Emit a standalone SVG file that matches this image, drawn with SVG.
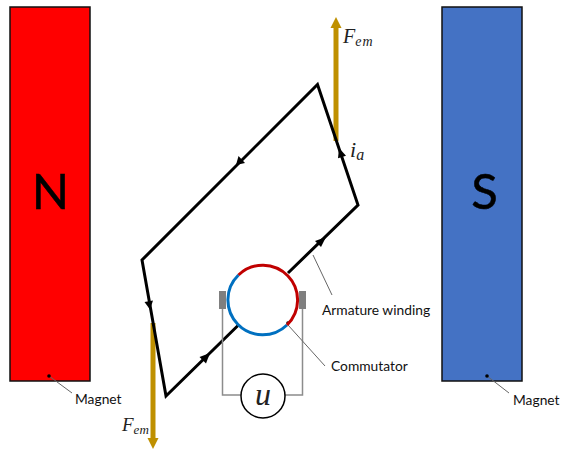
<svg xmlns="http://www.w3.org/2000/svg" width="562" height="449" viewBox="0 0 562 449">
<style>
.mag{stroke:#111;stroke-width:1.5}
.big{font:49px Lato,"Open Sans",sans-serif;fill:#000;stroke:#000;stroke-width:0.500;text-anchor:middle}
.lab{font:13.800px Lato,"Open Sans",sans-serif;fill:#111}
.m{font-family:"Liberation Serif",serif;font-style:italic;fill:#222}
.w{fill:none;stroke:#000;stroke-width:3;stroke-linejoin:miter}
.lead{fill:none;stroke:#666;stroke-width:1}
.wire{fill:none;stroke:#8c8c8c;stroke-width:1.5}
.f{stroke:#bf9000;stroke-width:5;fill:none}
.fh{fill:#bf9000}
.dot{fill:#000}
</style>
<g id="magnet-n"><rect class="mag" x="10" y="7" width="80" height="374" fill="#ff0000"/><text class="big" x="50.500" y="208.500">N</text></g>
<g id="magnet-s"><rect class="mag" x="442" y="7" width="80" height="374" fill="#4472c4"/><text class="big" x="484.500" y="208.500">S</text></g>
<g id="connectors">
<path class="f" d="M336 141V27"/><path class="fh" d="M336 17L341.500 28H330.500Z"/>
<path class="f" d="M153 323V438"/><path class="fh" d="M153 449L147.500 438H158.500Z"/>
<path class="w" d="M288 273L358 205L317.500 84.500L142 260L166 396L238.500 325"/>
<path class="dot" d="M326 237L321 247L315 241Z"/>
<path class="dot" d="M339 148L346 155.700L338 158.300Z"/>
<path class="dot" d="M236 165L238.500 156L245 163Z"/>
<path class="dot" d="M150 309.500L144.500 302L153 300.500Z"/>
<path class="dot" d="M210 353L206 363.500L199.500 357Z"/>
<path class="wire" d="M222.500 309V395H241M302.500 309V395H285"/>
<path class="lead" d="M313 255L332 295M288 325L325 366M49 376L72 393M487 376L509 393"/>
<circle class="dot" cx="288" cy="323" r="1.800"/><circle class="dot" cx="49" cy="376" r="1.800"/><circle class="dot" cx="487" cy="376" r="1.800"/>
</g>
<g id="commutator">
<rect x="219" y="291" width="7" height="18" fill="#7f7f7f"/><rect x="299" y="291" width="7" height="18" fill="#7f7f7f"/>
<path d="M238.500 275A34.500 34.500 0 1 0 287 325" fill="none" stroke="#0070c0" stroke-width="3"/>
<path d="M238.500 275A34.500 34.500 0 1 1 287 325" fill="none" stroke="#c00000" stroke-width="3"/>
</g>
<g id="meter"><circle cx="263" cy="396" r="22" fill="#fff" stroke="#000" stroke-width="1.500"/><text class="m" x="263" y="405" font-size="32" text-anchor="middle">u</text></g>
<g id="labels">
<text class="m" x="343" y="43" font-size="20">F<tspan font-size="14" dy="3" letter-spacing="1">em</tspan></text>
<text class="m" x="122" y="431" font-size="19">F<tspan font-size="13" dy="3">em</tspan></text>
<text class="m" x="350" y="157" font-size="22">i<tspan font-size="16" dy="3">a</tspan></text>
<text class="lab" x="322" y="315">Armature winding</text>
<text class="lab" x="331" y="371">Commutator</text>
<text class="lab" x="75" y="404">Magnet</text>
<text class="lab" x="513" y="405">Magnet</text>
</g>
</svg>
